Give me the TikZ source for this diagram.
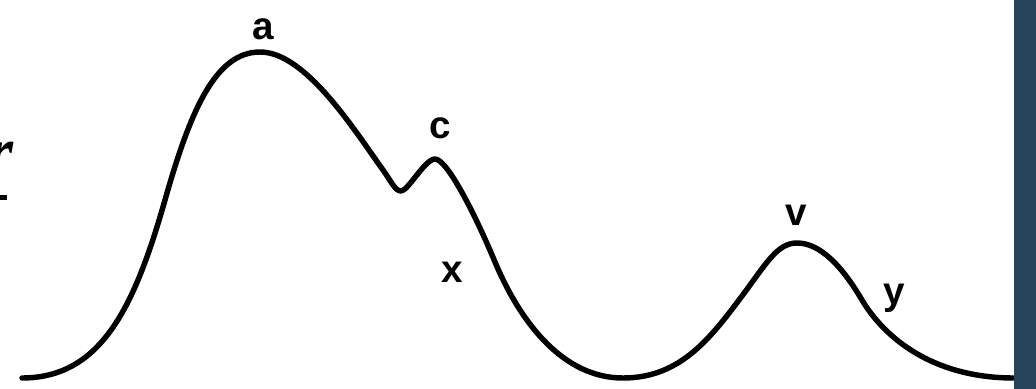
\documentclass[tikz,border=0pt]{standalone}
\usepackage{fontspec}
\setmainfont{Liberation Serif}
\newfontfamily\lblfont{Liberation Sans}
\definecolor{slatebar}{RGB}{39,68,90}
\usetikzlibrary{positioning}

\begin{document}
\begin{tikzpicture}[
    x=0.02cm, y=-0.02cm,
    peak/.style={font=\lblfont\bfseries\fontsize{22}{26}\selectfont, inner sep=0pt},
    wave/.style={line width=3.1pt, line cap=round, line join=round},
  ]
    \useasboundingbox (0,0) rectangle (1036,389);
    % clipped fragments at the left edge
    \begin{scope}
      \clip (0,0) rectangle (1036,389);
      \node[inner sep=0pt, anchor=north east, font=\bfseries\itshape\fontsize{38}{42}\selectfont] (frag) at (14,142) {r};
      \draw[line width=2.6pt] (0,197.5) -- (7,197.5);
    \end{scope}
    % the curve
    \draw[wave] (22,378) .. controls (102,378) and (135,305) .. (165,200)
      .. controls (190,112) and (215,52) .. (260,52)
      .. controls (305,52) and (353,128) .. (383,170)
      .. controls (391,181) and (395,191) .. (401,191)
      .. controls (408,191) and (425,159) .. (435,159)
      .. controls (447,159) and (475,214) .. (495,262)
      .. controls (522,326) and (565,378) .. (623,378)
      .. controls (682,378) and (712,336) .. (745,292)
      .. controls (767,262) and (778,243) .. (797,243)
      .. controls (820,243) and (842,266) .. (862,300)
      .. controls (884,337) and (932,378) .. (1014,378);
    % labels
    \node[peak] (a) at (263,29) {a};
    \node[peak] (c) at (440,128) {c};
    \node[peak] (x) at (452,272) {x};
    \node[peak] (v) at (796,215) {v};
    \node[peak] (y) at (894,298) {y};
    % side bar
    \fill[slatebar] (1014,0) rectangle (1036,389);
  \end{tikzpicture}
\end{document}
